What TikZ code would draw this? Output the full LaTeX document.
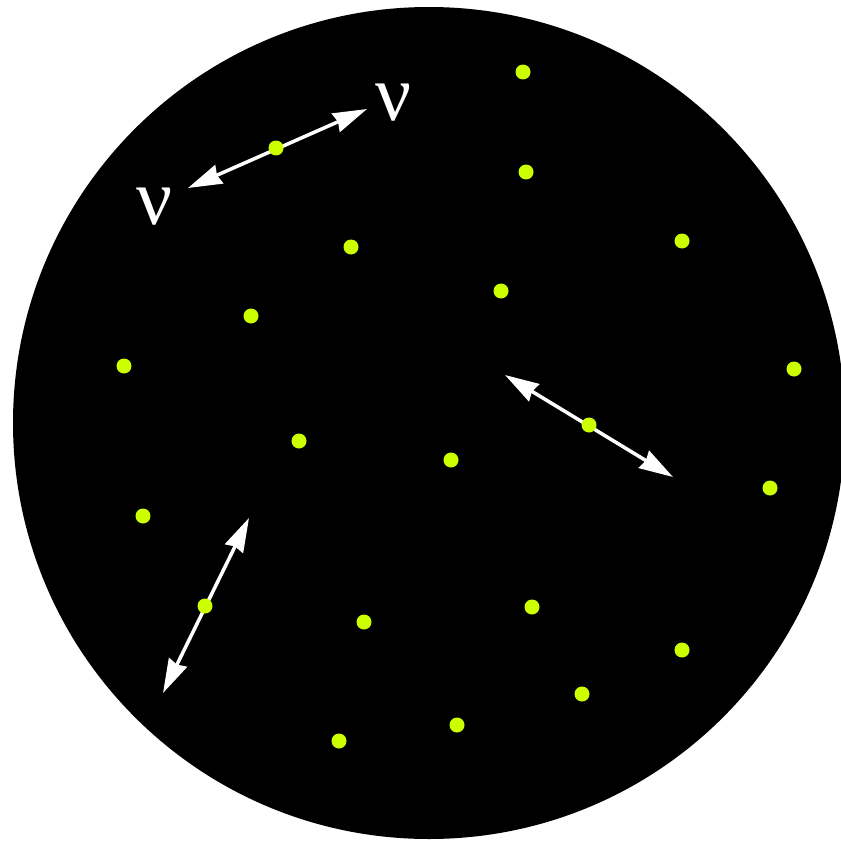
\documentclass[tikz,border=0pt]{standalone}
\usepackage{fontspec}
\usepackage{tikz}
\usetikzlibrary{arrows.meta}

\newfontfamily\greekfont{Liberation Serif}
\definecolor{lime}{RGB}{204,255,0}

\begin{document}
\begin{tikzpicture}[
  x=0.03cm, y=-0.03cm,
  dot/.style={circle, fill=lime, inner sep=0pt, minimum size=12.8pt},
  nu/.style={text=white, inner sep=0pt, font=\greekfont\fontsize{68}{68}\selectfont},
  swing/.style={{Stealth[length=29pt, width=17pt, inset=2pt]}-{Stealth[length=29pt, width=17pt, inset=2pt]}, white, line width=3pt}
]
\useasboundingbox (0,0) rectangle (840,843);
\fill (429,423) circle [radius=416*0.03cm];

% oscillating ends
\coordinate (a1) at (188,188);
\coordinate (a2) at (367,109);
\coordinate (b1) at (505,375);
\coordinate (b2) at (673,477);
\coordinate (c1) at (249,518);
\coordinate (c2) at (163,693);

\draw[swing] (a1) -- (a2);
\draw[swing] (b1) -- (b2);
\draw[swing] (c1) -- (c2);

\node[dot] (p1) at (276,148) {};
\node[dot] (p2) at (589,425) {};
\node[dot] (p3) at (205,606) {};

\node[nu] (nuL) at (155,207) {ν};
\node[nu] (nuR) at (394,103) {ν};

% the other particles
\node[dot] (d1) at (523,72) {};
\node[dot] (d2) at (526,172) {};
\node[dot] (d3) at (682,241) {};
\node[dot] (d4) at (351,247) {};
\node[dot] (d5) at (501,291) {};
\node[dot] (d6) at (251,316) {};
\node[dot] (d7) at (124,366) {};
\node[dot] (d8) at (794,369) {};
\node[dot] (d9) at (299,441) {};
\node[dot] (d10) at (451,460) {};
\node[dot] (d11) at (770,488) {};
\node[dot] (d12) at (143,516) {};
\node[dot] (d13) at (532,607) {};
\node[dot] (d14) at (364,622) {};
\node[dot] (d15) at (682,650) {};
\node[dot] (d16) at (582,694) {};
\node[dot] (d17) at (457,725) {};
\node[dot] (d18) at (339,741) {};
\end{tikzpicture}
\end{document}
